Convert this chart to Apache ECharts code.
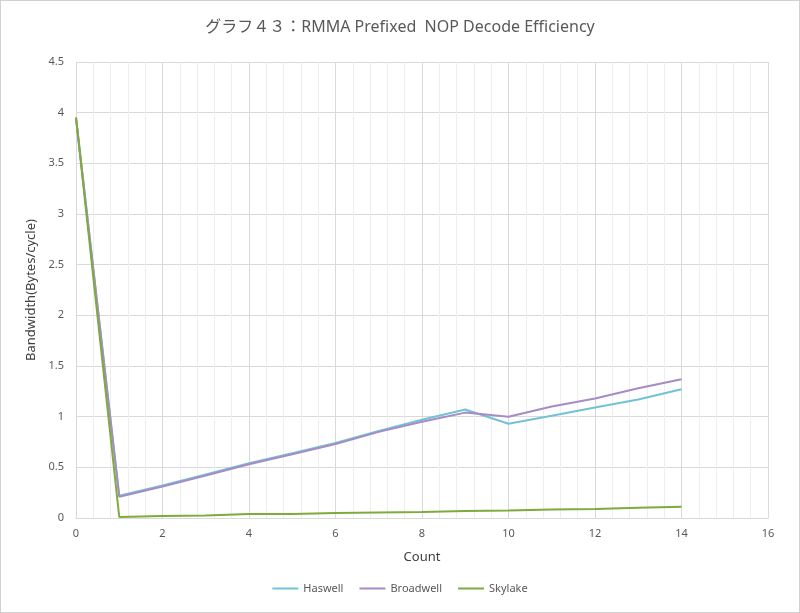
<!DOCTYPE html>
<html><head><meta charset="utf-8">
<script src="https://cdn.jsdelivr.net/npm/echarts@6/dist/echarts.min.js"></script>
<style>html,body{margin:0;padding:0;background:#fff}#c{width:798px;height:611px;border:1px solid #d0d0d0}</style>
</head><body><div id="c"></div>
<script>
const title = 'グラフ４３：RMMA Prefixed  NOP Decode Efficiency';
const counts = [0,1,2,3,4,5,6,7,8,9,10,11,12,13,14];
const haswell = [3.95,0.22,0.32,0.43,0.54,0.64,0.74,0.86,0.97,1.07,0.93,1.01,1.09,1.17,1.27];
const broadwell = [3.95,0.21,0.31,0.42,0.53,0.63,0.73,0.85,0.95,1.04,1.00,1.10,1.18,1.28,1.37];
const skylake = [3.95,0.01,0.02,0.025,0.04,0.04,0.05,0.055,0.06,0.07,0.075,0.085,0.09,0.10,0.11];
const names = ['Haswell','Broadwell','Skylake'];
const colors = ['#72c2d6','#a78bc4','#7faa3c'];
const font = '"Noto Sans","Noto Sans CJK JP",sans-serif';
const chart = echarts.init(document.getElementById('c'));
const mk = (arr)=>counts.map((c,i)=>[c,arr[i]]);
chart.setOption({
  animation:false,
  textStyle:{fontFamily:font},
  title:{text:title,left:'center',top:13,textStyle:{fontSize:16,fontWeight:'normal',color:'#595959',fontFamily:font}},
  legend:{bottom:13,left:'center',itemWidth:26,itemHeight:2,itemGap:16,icon:'rect',
    textStyle:{color:'#595959',fontSize:11,fontFamily:font}},
  grid:{left:75,right:31,top:61,bottom:94},
  xAxis:{type:'value',min:0,max:16,interval:2,name:'Count',nameLocation:'middle',nameGap:33,
    nameTextStyle:{color:'#404040',fontSize:13},
    axisLine:{lineStyle:{color:'#d9d9d9'}},axisTick:{show:false},
    axisLabel:{color:'#595959',fontSize:11,margin:10},
    splitLine:{lineStyle:{color:'#d9d9d9'}},
    minorTick:{show:false,splitNumber:5},minorSplitLine:{show:true,lineStyle:{color:'#eeeeee'}}},
  yAxis:{type:'value',min:0,max:4.5,interval:0.5,name:'Bandwidth(Bytes/cycle)',nameLocation:'middle',nameGap:37,
    nameTextStyle:{color:'#404040',fontSize:13},
    axisLine:{show:false},axisTick:{show:false},
    axisLabel:{color:'#595959',fontSize:11,margin:12},
    splitLine:{lineStyle:{color:'#d9d9d9'}}},
  series:[haswell,broadwell,skylake].map((d,i)=>({name:names[i],type:'line',data:mk(d),
    showSymbol:false,symbol:'none',lineStyle:{width:2,color:colors[i]},itemStyle:{color:colors[i]}}))
});
</script></body></html>
